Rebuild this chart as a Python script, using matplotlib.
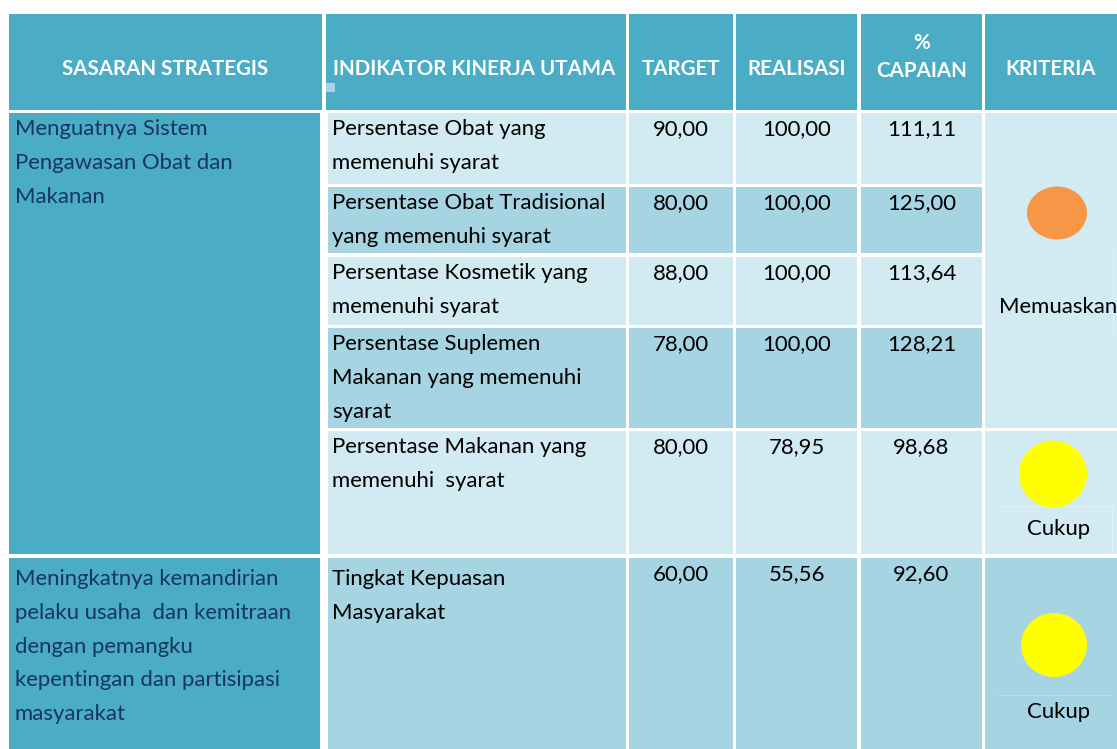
import matplotlib
matplotlib.use("Agg")
import matplotlib.pyplot as plt
from matplotlib.patches import Rectangle, Ellipse

# ---------------- data ----------------
headers = ["SASARAN STRATEGIS", "INDIKATOR KINERJA UTAMA", "TARGET", "REALISASI", "%\nCAPAIAN", "KRITERIA"]
sasaran = [
    ["Menguatnya Sistem", "Pengawasan Obat dan", "Makanan"],
    ["Meningkatnya kemandirian", "pelaku usaha  dan kemitraan", "dengan pemangku",
     "kepentingan dan partisipasi", "masyarakat"],
]
indikator = [
    ["Persentase Obat yang", "memenuhi syarat"],
    ["Persentase Obat Tradisional", "yang memenuhi syarat"],
    ["Persentase Kosmetik yang", "memenuhi syarat"],
    ["Persentase Suplemen", "Makanan yang memenuhi", "syarat"],
    ["Persentase Makanan yang", "memenuhi  syarat"],
    ["Tingkat Kepuasan", "Masyarakat"],
]
target = ["90,00", "80,00", "88,00", "78,00", "80,00", "60,00"]
realisasi = ["100,00", "100,00", "100,00", "100,00", "78,95", "55,56"]
capaian = ["111,11", "125,00", "113,64", "128,21", "98,68", "92,60"]
kriteria = ["Memuaskan", "Cukup", "Cukup"]
kriteria_color = ["#F79646", "#FFFF00", "#FFFF00"]

# ---------------- layout ----------------
W, H = 1117, 749
HEAD = "#4BACC6"
LIGHT = "#D2EAF1"
MED = "#A6D4E2"
NAVY = "#17365D"
FONT = "Lato"
FS = 15.9
HFS = 14.8

col_x = [(9, 320), (328, 626), (629, 733), (736, 857), (861, 982), (985, 1117)]
head_x = [(9, 322), (326, 626), (629, 733), (736, 857), (861, 982), (985, 1117)]
head_y = (14, 110)
row_y = [(113, 184), (187, 253), (257, 325), (328, 428), (431, 554), (558, 749)]
row_fill = [LIGHT, MED, LIGHT, MED, LIGHT, MED]
text_off = [16, 16, 16, 16, 16, 21]
line_gap = 33.8

fig = plt.figure(figsize=(W / 100, H / 100), dpi=100)
ax = fig.add_axes([0, 0, 1, 1])
ax.set_xlim(0, W)
ax.set_ylim(H, 0)
ax.axis("off")


def rect(x0, x1, y0, y1, color, z=1):
    ax.add_patch(Rectangle((x0, y0), x1 - x0, y1 - y0, facecolor=color, edgecolor="none", zorder=z))


def txt(x, y, s, ha="left", color="black", size=FS, weight="normal"):
    ax.text(x, y, s, ha=ha, va="center", color=color, fontsize=size, fontweight=weight,
            family=FONT, zorder=3)


# header
for (x0, x1) in head_x:
    rect(x0, x1, head_y[0], head_y[1], HEAD)
for i, h in enumerate(headers):
    x0, x1 = head_x[i]
    if i == 1:
        txt(333, 69, h, color="white", size=HFS, weight="bold")
    elif i == 4:
        top, bottom = h.split("\n")
        txt((x0 + x1) / 2, 43, top, ha="center", color="white", size=HFS, weight="bold")
        txt((x0 + x1) / 2, 71, bottom, ha="center", color="white", size=HFS, weight="bold")
    else:
        txt((x0 + x1) / 2, 69, h, ha="center", color="white", size=HFS, weight="bold")
rect(326, 335, 83, 92, "#A6D4E2", z=2)

# sasaran column
groups = [(113, 554, 16), (558, 749, 21)]
for (y0, y1, off), lines in zip(groups, sasaran):
    rect(col_x[0][0], col_x[0][1], y0, y1, HEAD)
    for k, t in enumerate(lines):
        txt(15, y0 + off + k * line_gap, t, color=NAVY)

# indicator rows
for r, (y0, y1) in enumerate(row_y):
    for c in range(1, 5):
        rect(col_x[c][0], col_x[c][1], y0, y1, row_fill[r])
    for k, t in enumerate(indikator[r]):
        txt(332, y0 + text_off[r] + k * line_gap, t)
    for c, vals in zip((2, 3, 4), (target, realisasi, capaian)):
        txt((col_x[c][0] + col_x[c][1]) / 2, y0 + 16, vals[r], ha="center")

# kriteria column
krit_cells = [(113, 428, LIGHT), (431, 554, LIGHT), (558, 749, MED)]
circle_c = [(1057, 213, 60, 53), (1053, 474, 68, 67), (1054, 645, 66, 64)]
label_x = [1058, 1059, 1059]
label_y = [307, 529, 712]
for k, (y0, y1, col) in enumerate(krit_cells):
    rect(col_x[5][0], col_x[5][1], y0, y1, col)
    cx, cy, w, h = circle_c[k]
    ax.add_patch(Ellipse((cx, cy), w, h, facecolor=kriteria_color[k], edgecolor="none", zorder=3))
    txt(label_x[k], label_y[k], kriteria[k], ha="center")

# faint guide lines inside kriteria cells
ax.plot([998, 1112], [506, 506], color="#E2F1F6", lw=0.8, zorder=2)
ax.plot([1112, 1112], [506, 554], color="#E2F1F6", lw=0.8, zorder=2)
ax.plot([1113, 1113], [250, 333], color="#E2F1F6", lw=0.8, zorder=2)
ax.plot([998, 1112], [695, 695], color="#B8DEE8", lw=0.8, zorder=2)

fig.savefig("out.png", dpi=100, facecolor="white")
